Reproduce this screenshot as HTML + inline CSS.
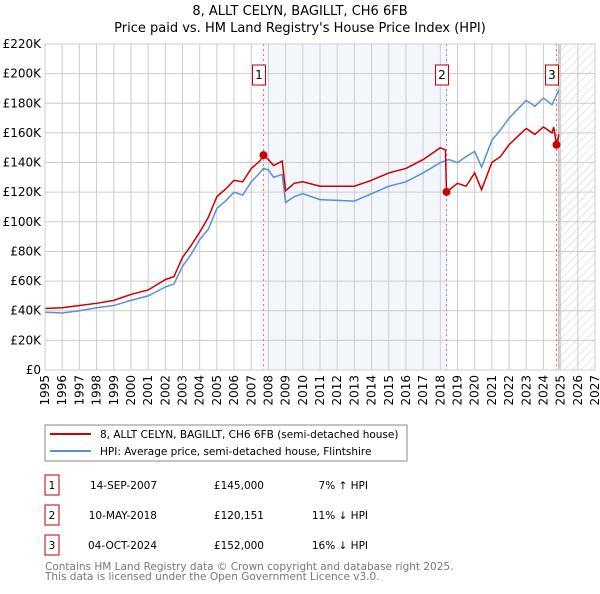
<!DOCTYPE html>
<html><head><meta charset="utf-8"><style>
body{margin:0;background:#fff;font-family:"DejaVu Sans","Liberation Sans",sans-serif;}
svg text{font-family:"DejaVu Sans","Liberation Sans",sans-serif;}
</style></head><body>
<svg id="c" width="600" height="590" xmlns="http://www.w3.org/2000/svg">
<defs><pattern id="hatch" width="6" height="6" patternUnits="userSpaceOnUse" patternTransform="rotate(45)"><line x1="0" y1="0" x2="0" y2="6" stroke="#ccc" stroke-width="1"/></pattern></defs>
<text x="300" y="15" text-anchor="middle" font-size="13">8, ALLT CELYN, BAGILLT, CH6 6FB</text>
<text x="300" y="32" text-anchor="middle" font-size="13">Price paid vs. HM Land Registry's House Price Index (HPI)</text>
<g id="plot"></g>
<rect x="45" y="425" width="362" height="36" fill="#fff" stroke="#888"/>
<line x1="50" y1="434" x2="91" y2="434" stroke="#cc0000" stroke-width="2"/>
<text x="100" y="438" font-size="10.5">8, ALLT CELYN, BAGILLT, CH6 6FB (semi-detached house)</text>
<line x1="50" y1="451" x2="91" y2="451" stroke="#5b8fd4" stroke-width="2"/>
<text x="100" y="455" font-size="10.5">HPI: Average price, semi-detached house, Flintshire</text>
<g id="tbl" font-size="10.5"></g>
<text x="45" y="570" font-size="10.5" fill="#777">Contains HM Land Registry data © Crown copyright and database right 2025.</text>
<text x="45" y="580" font-size="10.5" fill="#777">This data is licensed under the Open Government Licence v3.0.</text>
</svg>
<script>
const hpiYears=[1995,1996,1997,1998,1999,2000,2001,2002,2002.5,2003,2003.5,2004,2004.5,2005,2005.5,2006,2006.5,2007,2007.5,2007.7,2008,2008.3,2008.8,2009,2009.5,2010,2011,2012,2013,2014,2015,2016,2017,2018,2018.5,2019,2019.5,2020,2020.4,2021,2021.5,2022,2022.5,2023,2023.5,2024,2024.5,2024.9];
const hpiValues=[39,38.5,40,42,43.5,47,50,56,58,70,78,88,95,109,114,120,118,127,133,136,135,130,132,113,117,119,115,114.5,114,119,124,127,133,140,142,140,144,147.5,137,155,162,170,176,182,178,183.5,179,189];
const propYears=[1995,1996,1997,1998,1999,2000,2001,2002,2002.5,2003,2003.5,2004,2004.5,2005,2005.5,2006,2006.5,2007,2007.5,2007.71,2008,2008.3,2008.8,2009,2009.5,2010,2011,2012,2013,2014,2015,2016,2017,2018,2018.3,2018.36,2019,2019.5,2020,2020.4,2021,2021.5,2022,2022.5,2023,2023.5,2024,2024.5,2024.6,2024.76,2024.9];
const propValues=[41.5,42,43.5,45,47,51,54,61,63,76,84,93,103,117,122,128,127,136,141,145,142,138,141,121,126,127,124,124,124,128,133,136,142,150,148.5,120.151,126,124,133,121.6,140,144,152,157.6,163,159,164,160,164,152,159];
const saleLabels=["1","2","3"];
const saleYears=[2007.71,2018.36,2024.76];
const saleValues=[145,120.151,152];
const saleDates=["14-SEP-2007","10-MAY-2018","04-OCT-2024"];
const salePrices=["£145,000","£120,151","£152,000"];
const saleDiffs=["7% ↑ HPI","11% ↓ HPI","16% ↓ HPI"];
const yTicks=[0,20,40,60,80,100,120,140,160,180,200,220];
const xTicks=[1995,1996,1997,1998,1999,2000,2001,2002,2003,2004,2005,2006,2007,2008,2009,2010,2011,2012,2013,2014,2015,2016,2017,2018,2019,2020,2021,2022,2023,2024,2025,2026,2027];
const L=45,R=595,T=44,B=370,X0=1995,X1=2027,YMAX=220,dataEnd=2024.9;
const sx=y=>L+(y-X0)/(X1-X0)*(R-L);
const sy=v=>B-v/YMAX*(B-T);
const NS="http://www.w3.org/2000/svg";
const g=document.getElementById('plot');
function mk(tag,attrs,parent){const e=document.createElementNS(NS,tag);for(const k in attrs)e.setAttribute(k,attrs[k]);(parent||g).appendChild(e);return e;}
let e;
e=mk('rect',{x:sx(saleYears[0]),y:T,width:sx(saleYears[1])-sx(saleYears[0]),height:B-T,fill:'#eef3fc',opacity:0.7});


e=mk('rect',{x:sx(dataEnd),y:T,width:R-sx(dataEnd),height:B-T,fill:'url(#hatch)'});


yTicks.forEach(v=>{
 e=mk('line',{x1:L,x2:R,y1:sy(v),y2:sy(v),stroke:'#ccc'});
 
 
 e=mk('text',{x:L-4,y:sy(v)+4,'text-anchor':'end','font-size':12});
 e.textContent=v===0?'£0':'£'+v+'K';
 
 
});
xTicks.forEach(y=>{
 e=mk('line',{x1:sx(y),x2:sx(y),y1:T,y2:B,stroke:'#ccc'});
 
 
 e=mk('text',{x:0,y:0,'text-anchor':'end','font-size':12,transform:`translate(${sx(y)+4},${B+5}) rotate(-90)`});
 e.textContent=y;
 
 
});
e=mk('line',{x1:sx(dataEnd),x2:sx(dataEnd),y1:T,y2:B,stroke:'#999','stroke-width':1});


saleYears.forEach((y,i)=>{
 e=mk('line',{x1:sx(y),x2:sx(y),y1:T,y2:B,stroke:'#e66','stroke-dasharray':'2,3'});
 
 
});
e=mk('polyline',{points:hpiYears.map((y,i)=>sx(y)+','+sy(hpiValues[i])).join(' '),fill:'none',stroke:'#5b8fd4','stroke-width':1.5});


e=mk('polyline',{points:propYears.map((y,i)=>sx(y)+','+sy(propValues[i])).join(' '),fill:'none',stroke:'#cc0000','stroke-width':1.5});


saleYears.forEach((y,i)=>{
 e=mk('circle',{cx:sx(y),cy:sy(saleValues[i]),r:4,fill:'#cc0000'});
 
 
 e=mk('rect',{x:sx(y)-11,y:65,width:13,height:20,fill:'#fff',stroke:'#b00'});
 
 
 e=mk('text',{x:sx(y)-4.5,y:79,'text-anchor':'middle','font-size':12});
 e.textContent=saleLabels[i];
 
 
});
e=mk('rect',{x:L,y:T,width:R-L,height:B-T,fill:'none',stroke:'#ccc'});


const t=document.getElementById('tbl');
saleLabels.forEach((s,i)=>{
 const cy=483+i*30;
 e=mk('rect',{x:45,y:cy-8,width:14,height:20,fill:'#fff',stroke:'#b00'},t);
 
 
 e=mk('text',{x:52,y:cy+6,'text-anchor':'middle'},t);e.textContent=s;
 
 
 e=mk('text',{x:157,y:cy+6,'text-anchor':'end'},t);e.textContent=saleDates[i];
 
 
 e=mk('text',{x:264,y:cy+6,'text-anchor':'end'},t);e.textContent=salePrices[i];
 
 
 e=mk('text',{x:368,y:cy+6,'text-anchor':'end'},t);e.textContent=saleDiffs[i];
 
 
});
</script>
</body></html>
